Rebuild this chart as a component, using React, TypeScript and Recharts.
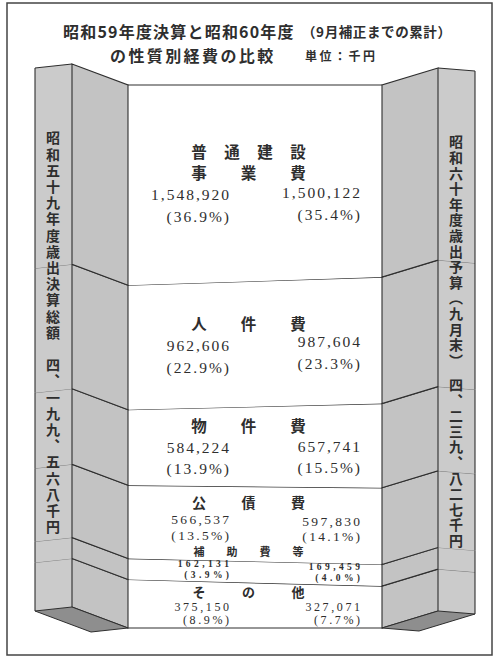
import React from 'react';
import { BarChart, Bar, AreaChart, Area, XAxis, YAxis, ReferenceLine } from 'recharts';

// 性質別経費（上から順）
const categories = ['普通建設事業費', '人件費', '物件費', '公債費', '補助費等', 'その他'];
const categoryLines = [['普通建設', '事業費'], ['人件費'], ['物件費'], ['公債費'], ['補助費等'], ['その他']];
const years = ['昭和59年度', '昭和60年度'];
const values59 = [1548920, 962606, 584224, 566537, 162131, 375150];
const values60 = [1500122, 987604, 657741, 597830, 169459, 327071];
const pct59 = ['36.9%', '22.9%', '13.9%', '13.5%', '3.9%', '8.9%'];
const pct60 = ['35.4%', '23.3%', '15.5%', '14.1%', '4.0%', '7.7%'];
const pillarTexts = [
  '昭和五十九年度歳出決算総額　四、一九九、五六八千円',
  '昭和六十年度歳出予算（九月末）　四、二三九、八二七千円',
];

const series = [values59, values60];
const pcts = [pct59, pct60];
const keys = categories.map((_, i) => `c${i}`);
const data = years.map((year, j) => {
  const row: Record<string, any> = { year, pos: j };
  keys.forEach((k, i) => (row[k] = series[j][i]));
  return row;
});
// stacking starts at the bottom
const stackKeys = [...keys].reverse();

// layout
const W = 495;
const H = 659;
const PLOT_TOP = 85;
const PLOT_BOTTOM = 628;
const CENTER_L = 128;
const CENTER_R = 382;
const FRONT_W = 37;
const SIDE_W = 56;
const LIFT = [21, 17];
const TILT = [4, 3];
const NUM_X = [229, 360];
const NUM_CX = [195, 325];
const LABEL_X0 = 199;
const LABEL_X1 = 298;
const NUM_FONT = '"Liberation Serif", serif';
const JP_FONT = '"Noto Sans CJK JP", sans-serif';
const INK = '#2e2e2e';

const sum = (a: number[]) => a.reduce((s, v) => s + v, 0);

type Span = { top: number; bot: number };

// row bounds of category i for both years, taken from the bar's own rect
function stackBounds(i: number, j: number, y: number, h: number): Span[] {
  const own = series[j];
  const full = h / (own[i] / sum(own));
  const top0 = y - (sum(own.slice(0, i)) / sum(own)) * full;
  return series.map((arr) => {
    const a = sum(arr.slice(0, i)) / sum(arr);
    const b = a + arr[i] / sum(arr);
    return { top: top0 + a * full, bot: top0 + b * full };
  });
}

// where the lines of a row's text go, depending on how tall the row is
function rowStyle(hm: number, n: number) {
  if (hm >= 77) {
    return { lf: 15.5, nf: 15.5, ls: 2, weight: 400,
      pos: (r: Span, k: number) => (r.top + r.bot) / 2 + (k - (n - 1) / 2) * 21.5 };
  }
  if (hm >= 60) {
    const off = [16, 34, 49.5];
    return { lf: 14, nf: 13.5, ls: 2.3, weight: 400, pos: (r: Span, k: number) => r.top + off[k] };
  }
  if (hm >= 30) {
    return { lf: 13, nf: 12, ls: 2.6, weight: 400,
      pos: (r: Span, k: number) => (k === 0 ? r.top + 8 : k === 1 ? r.bot - 21 : r.bot - 7.7) };
  }
  const off = [-10, 4, 14.5];
  return { lf: 11, nf: 9.5, ls: 3.4, weight: 700, pos: (r: Span, k: number) => r.top + off[k] };
}

function RowText({ i, j, bounds }: { i: number; j: number; bounds: Span[] }) {
  const [bl, br] = bounds;
  const at = (cx: number): Span => {
    const t = (cx - CENTER_L) / (CENTER_R - CENTER_L);
    return { top: bl.top + (br.top - bl.top) * t, bot: bl.bot + (br.bot - bl.bot) * t };
  };
  const lines = categoryLines[i];
  const n = lines.length + 2;
  const hm = (bl.bot - bl.top + br.bot - br.top) / 2;
  const st = rowStyle(hm, n);
  const col = at(NUM_CX[j]);
  const mid = at((LABEL_X0 + LABEL_X1) / 2);
  const value = series[j][i].toLocaleString('en-US');
  const numProps = {
    x: NUM_X[j] + st.ls, textAnchor: 'end' as const, dominantBaseline: 'central' as const,
    fontSize: st.nf, letterSpacing: st.ls, fontFamily: NUM_FONT, fill: INK, fontWeight: st.weight,
  };
  return (
    <g>
      <text {...numProps} y={st.pos(col, n - 2)}>{value}</text>
      <text {...numProps} y={st.pos(col, n - 1)}>({pcts[j][i]})</text>
      {j === 1 &&
        lines.map((line, li) => {
          const chars = Array.from(line);
          return (
            <text key={li} y={st.pos(mid, li)} textAnchor="middle" dominantBaseline="central" fontSize={st.lf}
              fontFamily={JP_FONT} fontWeight={700} fill={INK}>
              {chars.map((c, ci) => (
                <tspan key={ci} x={LABEL_X0 + (ci * (LABEL_X1 - LABEL_X0)) / (chars.length - 1)}>{c}</tspan>
              ))}
            </text>
          );
        })}
    </g>
  );
}

function PillarSegment(props: any) {
  const { x, y, width, height, i } = props;
  const j: number = props.payload?.pos ?? props.index ?? 0;
  const left = j === 0;
  const lift = LIFT[j];
  const tilt = TILT[j];
  const innerX = left ? x + width : x;
  const outerX = left ? x : x + width;
  const cx = left ? innerX + SIDE_W : innerX - SIDE_W;
  const yb = y + height;
  const front = [
    [innerX, y - lift], [outerX, y - lift + tilt], [outerX, yb - lift + tilt], [innerX, yb - lift],
  ];
  const side = [[innerX, y - lift], [cx, y], [cx, yb], [innerX, yb - lift]];
  const pts = (p: number[][]) => p.map((q) => q.join(',')).join(' ');
  const isBottom = i === categories.length - 1;
  const isTop = i === 0;
  const bounds = stackBounds(i, j, y, height);
  return (
    <g>
      <polygon points={pts(front)} fill="#cbcbcb" stroke="none" />
      <polygon points={pts(side)} fill="#c3c3c3" stroke={INK} strokeWidth={1.1} />
      <line x1={innerX} y1={y - lift} x2={outerX} y2={y - lift + tilt}
        stroke={isTop ? INK : '#6a6a6a'} strokeWidth={isTop ? 1.1 : 0.8} />
      <line x1={outerX} y1={y - lift + tilt} x2={outerX} y2={yb - lift + tilt} stroke={INK} strokeWidth={1.1} />
      {isBottom && (
        <polygon
          points={pts([
            [innerX, yb - lift], [outerX, yb - lift + tilt],
            [cx + (outerX - innerX), yb + tilt], [cx, yb],
          ])}
          fill="#8e8e8e" stroke={INK} strokeWidth={1} />
      )}
      <RowText i={i} j={j} bounds={bounds} />
    </g>
  );
}

export default function App() {
  const margin = { top: PLOT_TOP, bottom: H - PLOT_BOTTOM };
  return (
    <div style={{ position: 'absolute', left: 0, top: 0, width: W, height: H, background: '#fff' }}>
      <div style={{ position: 'absolute', left: 0, top: 0 }}>
        <AreaChart width={W} height={H} data={data} stackOffset="expand"
          margin={{ ...margin, left: CENTER_L, right: W - CENTER_R }}>
          <XAxis dataKey="year" hide />
          <YAxis hide domain={[0, 1]} />
          {stackKeys.map((k) => (
            <Area key={k} dataKey={k} stackId="s" type="linear" fill="#fff" fillOpacity={1}
              stroke={INK} strokeWidth={1.2} dot={false} activeDot={false} isAnimationActive={false} />
          ))}
          <ReferenceLine y={0} stroke={INK} strokeWidth={1.2} />
        </AreaChart>
      </div>
      <div style={{ position: 'absolute', left: 0, top: 0 }}>
        <BarChart width={W} height={H} data={data} stackOffset="expand"
          margin={{ ...margin, left: CENTER_L - SIDE_W - FRONT_W / 2, right: W - (CENTER_R + SIDE_W + FRONT_W / 2) }}>
          <XAxis dataKey="pos" type="number" domain={[0, 1]} hide />
          <YAxis hide domain={[0, 1]} />
          {stackKeys.map((k) => {
            const i = keys.indexOf(k);
            return (
              <Bar key={k} dataKey={k} stackId="s" barSize={FRONT_W} isAnimationActive={false}
                shape={(p: any) => <PillarSegment {...p} i={i} />} />
            );
          })}
        </BarChart>
      </div>
      <svg width={W} height={H} style={{ position: 'absolute', left: 0, top: 0, pointerEvents: 'none' }}>
        <rect x={7} y={3} width={485} height={652} fill="none" stroke="#444" strokeWidth={1.5} />
        <text x={63} y={31} dominantBaseline="central" fontSize={16} fontWeight={700} letterSpacing={1.2}
          fontFamily={JP_FONT} fill={INK}>昭和59年度決算と昭和60年度</text>
        <text x={302} y={31} dominantBaseline="central" fontSize={13.5} fontWeight={700} letterSpacing={0.6}
          fontFamily={JP_FONT} fill={INK}>（9月補正までの累計）</text>
        <text x={110} y={54.5} dominantBaseline="central" fontSize={16} fontWeight={700} letterSpacing={2.4}
          fontFamily={JP_FONT} fill={INK}>の性質別経費の比較</text>
        <text x={305} y={55} dominantBaseline="central" fontSize={12} fontWeight={700} letterSpacing={2.5}
          fontFamily={JP_FONT} fill={INK}>単位：千円</text>
        <text x={53} y={131} style={{ writingMode: 'vertical-rl' }} fontSize={14} fontWeight={700}
          letterSpacing={2.2} fontFamily={JP_FONT} fill={INK}>{pillarTexts[0]}</text>
        <text x={456} y={135} style={{ writingMode: 'vertical-rl' }} fontSize={14} fontWeight={700}
          letterSpacing={1.6} fontFamily={JP_FONT} fill={INK}>{pillarTexts[1]}</text>
      </svg>
    </div>
  );
}
